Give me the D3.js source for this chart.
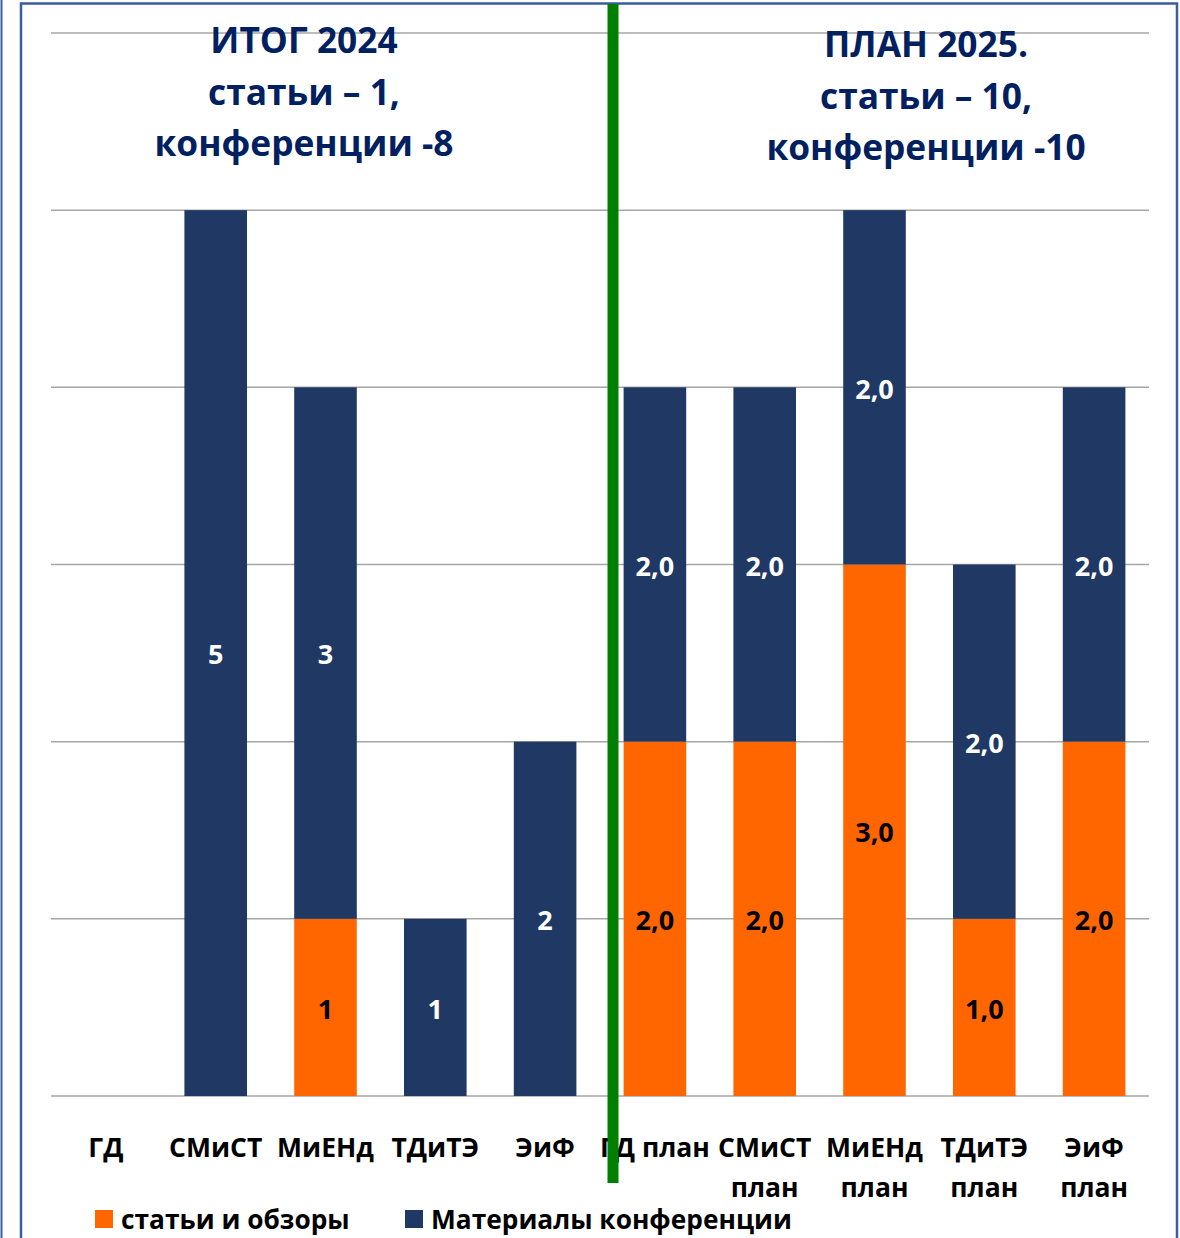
<!DOCTYPE html>
<html><head><meta charset="utf-8">
<script src="https://cdn.jsdelivr.net/npm/d3@7"></script>
<style>body{margin:0;background:#fff;}svg{display:block;font-family:"Open Sans",Lato,sans-serif;}</style>
</head><body><svg id="c" width="1180" height="1238"></svg>
<script>
const categories = ["ГД","СМиСТ","МиЕНд","ТДиТЭ","ЭиФ","ГД план","СМиСТ план","МиЕНд план","ТДиТЭ план","ЭиФ план"];
const articles = [0,0,1,0,0,2,2,3,1,2];
const conferences = [0,5,3,1,2,2,2,2,2,2];
const isPlan = [false,false,false,false,false,true,true,true,true,true];
const yTicks = [0,1,2,3,4,5,6];
const seriesNames = ["статьи и обзоры","Материалы конференции"];
const titleLeft = ["ИТОГ 2024","статьи – 1,","конференции -8"];
const titleRight = ["ПЛАН 2025.","статьи – 10,","конференции -10"];

const colors = {art:"#FF6600", conf:"#203864", frame:"#3B5C9E", green:"#008000", title:"#002060"};
const svg = d3.select("#c");
const m = {l:51, r:1149, t:33, b:1096};
const x = d3.scaleBand().domain(categories).range([m.l,m.r]).paddingInner(0.43).paddingOuter(0.215);
const y = d3.scaleLinear().domain([0,6]).range([m.b,m.t]);

// frame
svg.append("line").attr("x1",1.5).attr("x2",1.5).attr("y1",0).attr("y2",1238).attr("stroke",colors.frame).attr("stroke-width",2);
svg.append("path").attr("d",`M21,1238V3.5H1177V1238`).attr("fill","none").attr("stroke",colors.frame).attr("stroke-width",2.5);

// grid
svg.append("g").selectAll("line").data(yTicks).join("line")
 .attr("x1",m.l).attr("x2",m.r).attr("y1",d=>y(d)).attr("y2",d=>y(d))
 .attr("stroke","#A6A6A6").attr("stroke-width",1.5);

const fmt = (v,i)=> isPlan[i] ? d3.format(".1f")(v).replace(".",",") : String(v);

// bars
const g = svg.append("g");
categories.forEach((c,i)=>{
  const a = articles[i], k = conferences[i];
  if(a>0){
    g.append("rect").attr("x",x(c)).attr("width",x.bandwidth()).attr("y",y(a)).attr("height",y(0)-y(a)).attr("fill",colors.art);
  }
  if(k>0){
    g.append("rect").attr("x",x(c)).attr("width",x.bandwidth()).attr("y",y(a+k)).attr("height",y(a)-y(a+k)).attr("fill",colors.conf);
  }
});
categories.forEach((c,i)=>{
  const a = articles[i], k = conferences[i];
  const cx = x(c)+x.bandwidth()/2;
  if(a>0) g.append("text").attr("x",cx).attr("y",y(a/2)).attr("dy","0.42em").attr("text-anchor","middle")
     .attr("font-size",27).attr("font-weight","bold").attr("fill","#000").text(fmt(a,i));
  if(k>0) g.append("text").attr("x",cx).attr("y",y(a+k/2)).attr("dy","0.42em").attr("text-anchor","middle")
     .attr("font-size",27).attr("font-weight","bold").attr("fill","#fff").text(fmt(k,i));
});

// x labels
const xl = svg.append("g").attr("font-size",26.5).attr("font-weight","bold").attr("fill","#000");
categories.forEach((c,i)=>{
  const cx = x(c)+x.bandwidth()/2;
  const t = xl.append("text").attr("x",cx).attr("y",1157).attr("text-anchor","middle").text(c);
  if(t.node().getComputedTextLength() > x.step()*1.15){
    t.text(null);
    c.split(" ").forEach((w,j)=>t.append("tspan").attr("x",cx).attr("y",1157+j*40).text(w));
  }
});

// green divider
svg.append("line").attr("x1",613).attr("x2",613).attr("y1",4).attr("y2",1183).attr("stroke",colors.green).attr("stroke-width",11);

// titles
function title(lines,cx,y0){
  const t = svg.append("text").attr("text-anchor","middle").attr("font-size",35.3).attr("font-weight","bold").attr("fill",colors.title);
  lines.forEach((l,j)=>t.append("tspan").attr("x",cx).attr("y",y0+j*51.5).text(l));
}
title(titleLeft,304,53);
title(titleRight,926,57);

// legend
const lg = svg.append("g").attr("font-size",26.3).attr("font-weight","bold");
[[95,colors.art,seriesNames[0]],[405,colors.conf,seriesNames[1]]].forEach(([lx,col,name])=>{
  lg.append("rect").attr("x",lx).attr("y",1210).attr("width",18).attr("height",18).attr("fill",col);
  lg.append("text").attr("x",lx+26).attr("y",1229).text(name);
});
</script></body></html>
